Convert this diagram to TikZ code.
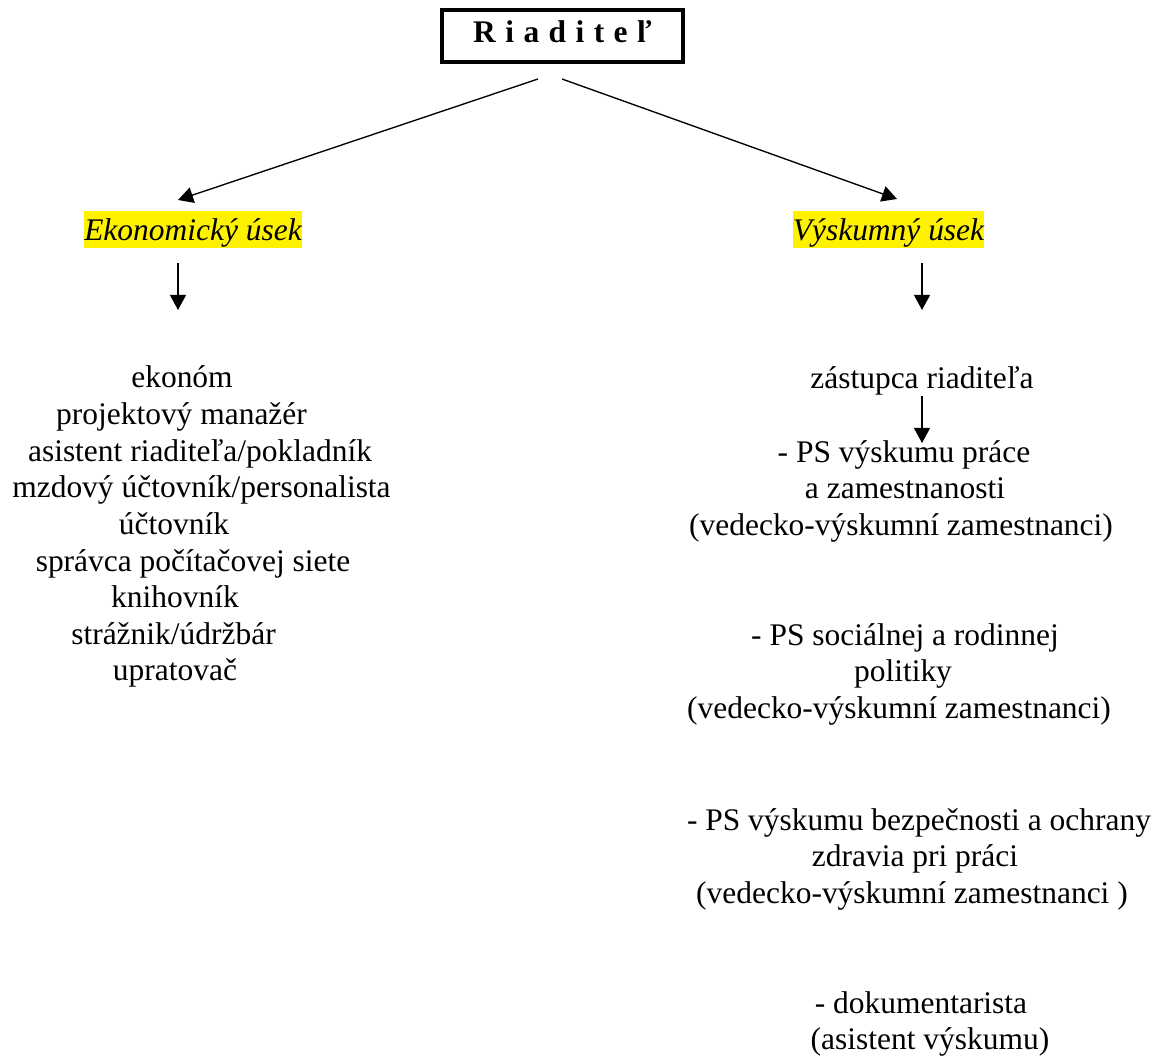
\documentclass[tikz,border=0pt]{standalone}
\usepackage{fontspec}
\setmainfont{Liberation Serif}
\usetikzlibrary{positioning,arrows.meta}
\newcommand\titulfont{\fontsize{14}{16.3}\selectfont\bfseries\spaceskip 0.3em\relax}

\begin{document}
\begin{tikzpicture}[x=0.445pt,y=-0.445pt,
    arr/.style={line width=0.6pt,-{Triangle[length=6.7pt,width=7.1pt]}},
    usek/.style={fill=yellow,inner sep=0pt,text height=13.3pt,text depth=3.1pt,
      font=\fontsize{14}{16.3}\selectfont\itshape},
    riadok/.style={anchor=base,inner sep=0pt,font=\fontsize{14}{16.3}\selectfont}]
    \useasboundingbox (0,0) rectangle (1172,1059);

    \node[draw,line width=1.8pt,minimum width=107.3pt,minimum height=23.1pt,inner sep=0pt,
      text height=9.3pt,text depth=3.1pt,font=\titulfont] (riad) at (562.5,36) {R i a d i t e ľ};

    \node[usek] (eko) at (193,229.5) {Ekonomický úsek};
    \node[usek] (vysk) at (888.5,229.5) {Výskumný úsek};

    % economic staff
    \foreach \t/\xx/\yy [count=\i] in {ekonóm/182/387, projektový manažér/181.5/424,
        {asistent riaditeľa/pokladník}/200/461, {mzdový účtovník/personalista}/201.5/497.5,
        účtovník/174/534, správca počítačovej siete/193/571, knihovník/175/607,
        {strážnik/údržbár}/173.5/644, upratovač/175/680}
      \node[riadok] (e\i) at (\xx,\yy) {\t};

    % research staff
    \node[riadok] (zast) at (922,388) {zástupca riaditeľa};
    \foreach \t/\xx/\yy [count=\i] in {- PS výskumu práce/904/462, a zamestnanosti/905/498.5,
        (vedecko-výskumní zamestnanci)/901/535, - PS sociálnej a rodinnej/905/645,
        politiky/903/681.5, (vedecko-výskumní zamestnanci)/899/718,
        - PS výskumu bezpečnosti a ochrany/919/830, zdravia pri práci/915/866.5,
        (vedecko-výskumní zamestnanci )/912/903, - dokumentarista/921/1013,
        (asistent výskumu)/930/1049}
      \node[riadok] (v\i) at (\xx,\yy) {\t};

    \coordinate (riadL) at (538,79);
    \coordinate (riadR) at (562,79);
    \coordinate (ekoIn) at (178,200);
    \coordinate (vyskIn) at (897,199);
    \coordinate (ekoOut) at (178,263);
    \coordinate (ekoList) at (178,310);
    \coordinate (vyskOut) at (922,263);
    \coordinate (vyskList) at (922,310);
    \coordinate (zastOut) at (922,396);
    \coordinate (psIn) at (922,443);

    \draw[arr] (riadL) -- (ekoIn);
    \draw[arr] (riadR) -- (vyskIn);
    \draw[arr] (ekoOut) -- (ekoList);
    \draw[arr] (vyskOut) -- (vyskList);
    \draw[arr] (zastOut) -- (psIn);
\end{tikzpicture}
\end{document}
